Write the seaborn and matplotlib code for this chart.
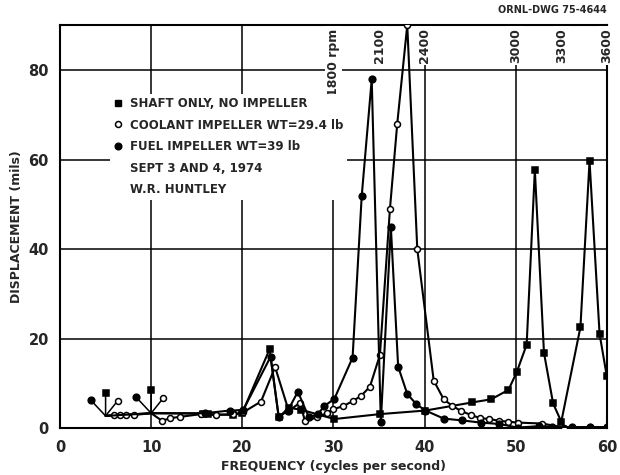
import matplotlib
matplotlib.use("Agg")
import matplotlib.pyplot as plt
import matplotlib.transforms as mtransforms
from matplotlib.lines import Line2D
import seaborn as sns
import pandas as pd

# ---- data ----
shaft_x = [5.0, 10.0, 15.7, 16.2, 19.0, 20.0, 23.0, 24.0, 25.1, 26.4, 30.1, 35.1,
           40.1, 45.2, 47.3, 49.2, 50.1, 51.2, 52.1, 53.1, 54.1, 55.0, 57.1, 58.1, 59.2, 60.0]
shaft_y = [2.8, 3.4, 3.3, 3.2, 3.0, 3.5, 17.7, 2.5, 4.6, 4.2, 2.1, 3.2,
           4.0, 5.8, 6.5, 8.6, 12.5, 18.7, 57.7, 16.9, 5.6, 1.5, 22.6, 59.7, 21.1, 11.6]

coolant_x = [5.0, 5.9, 6.6, 7.2, 8.1, 10.0, 11.2, 12.1, 13.2, 15.5, 17.1, 19.0, 20.1,
             22.05, 23.6, 25.1, 26.3, 26.9, 28.2, 29.3, 30.0, 31.1, 32.1, 33.0, 34.0,
             35.1, 36.2, 37.0, 38.1, 39.2, 41.0, 42.1, 43.0, 44.0, 45.1, 46.1, 47.1,
             48.2, 49.2, 50.3, 52.9, 55.3, 58.2, 60.0]
coolant_y = [2.8, 3.0, 3.0, 3.0, 3.0, 3.4, 1.7, 2.3, 2.6, 3.2, 3.0, 3.2, 3.6,
             6.0, 13.7, 3.9, 5.7, 1.6, 2.5, 3.4, 4.3, 5.0, 6.1, 7.2, 9.3,
             16.4, 49.0, 68.0, 90.0, 40.0, 10.7, 6.5, 5.1, 3.9, 3.0, 2.3, 2.1,
             1.7, 1.5, 1.3, 1.1, 0.2, 0.3, 0.3]

fuel_x = [5.0, 10.0, 15.9, 18.6, 20.1, 23.1, 24.0, 25.0, 26.1, 27.3, 28.3, 29.0, 30.1,
          32.1, 33.1, 34.2, 35.2, 36.3, 37.1, 38.1, 39.1, 40.1, 42.1, 44.1, 46.2, 48.2,
          50.2, 52.5, 54.0, 56.2, 58.2, 60.0]
fuel_y = [2.8, 3.4, 3.4, 4.0, 4.1, 16.0, 2.5, 4.0, 8.2, 2.5, 3.2, 5.0, 6.6,
          15.8, 51.8, 77.9, 1.5, 45.0, 13.8, 7.7, 5.4, 4.0, 2.2, 1.8, 1.3, 1.0,
          0.2, 0.5, 0.4, 0.3, 0.3, 0.3]

# coincident points (all three series) shown with offset symbols and leader lines
callout_hub_x = [5.0, 10.0]
callout_hub_y = [2.8, 3.4]

rpm_freq = [30, 35, 40, 50, 55, 60]
rpm_labels = ["1800 rpm", "2100", "2400", "3000", "3300", "3600"]

legend_labels = ["SHAFT ONLY, NO IMPELLER", "COOLANT IMPELLER WT=29.4 lb",
                 "FUEL IMPELLER WT=39 lb", "SEPT 3 AND 4, 1974", "W.R. HUNTLEY"]

# ---- style ----
sns.set_theme(style="white")
plt.rcParams['font.family'] = ['DejaVu Sans']

fig = plt.figure(figsize=(6.2, 4.75), dpi=100)
ax = fig.add_axes([0.0968, 0.098, 0.882, 0.849])

# grid
for gx in [10, 20, 30, 40, 50]:
    ax.axvline(gx, color='black', lw=1.1, zorder=0)
for gy in [20, 40, 60, 80]:
    ax.axhline(gy, color='black', lw=1.1, zorder=0)

SQ, CO, CF = 5.0, 4.3, 4.8  # marker sizes: square, open circle, filled circle

series = [
    (shaft_x, shaft_y, 's', 'black', SQ),
    (coolant_x, coolant_y, 'o', 'white', CO),
    (fuel_x, fuel_y, 'o', 'black', CF),
]
for xs, ys, mk, fc, ms in series:
    df = pd.DataFrame({'f': xs, 'd': ys})
    hubs = [i for i, (x, y) in enumerate(zip(xs, ys))
            if (x, y) in zip(callout_hub_x, callout_hub_y)]
    every = [i for i in range(len(xs)) if i not in hubs]
    sns.lineplot(data=df, x='f', y='d', sort=False, estimator=None, ax=ax,
                 color='black', lw=1.5, marker=mk, markersize=ms, markevery=every,
                 markerfacecolor=fc, markeredgecolor='black', markeredgewidth=1.1,
                 zorder=3)

# callouts: (dx, dy) pixel offsets of fuel, shaft, coolant symbols from the hub
offsets = [((-15, 16), 'o', 'black', CF),
           ((0, 23), 's', 'black', SQ),
           ((12, 15), 'o', 'white', CO)]
for hx, hy in zip(callout_hub_x, callout_hub_y):
    for (dx, dy), mk, fc, ms in offsets:
        ax.annotate('', xy=(hx, hy), xytext=(dx, dy), textcoords='offset pixels',
                    arrowprops=dict(arrowstyle='-', lw=1.1, color='black',
                                    shrinkA=0, shrinkB=0), zorder=2)
        tr = mtransforms.offset_copy(ax.transData, fig=fig, x=dx, y=dy, units='dots')
        ax.plot([hx], [hy], marker=mk, ms=ms, mfc=fc, mec='black', mew=1.1,
                transform=tr, zorder=4, clip_on=False)

ax.set_xlim(0, 60)
ax.set_ylim(0, 90)
ax.set_xticks([0, 10, 20, 30, 40, 50, 60])
ax.set_yticks([0, 20, 40, 60, 80])
ax.tick_params(length=0, labelsize=10.5, pad=8)
for lab in ax.get_xticklabels() + ax.get_yticklabels():
    lab.set_fontweight('bold')
for s in ax.spines.values():
    s.set_color('black')
    s.set_linewidth(1.5)

ax.set_xlabel("FREQUENCY (cycles per second)", fontsize=9, fontweight='bold', labelpad=4)
ax.set_ylabel("DISPLACEMENT (mils)", fontsize=9, fontweight='bold', labelpad=4)

# rpm labels along the top
for fx, lab in zip(rpm_freq, rpm_labels):
    ax.text(fx, 89.3, lab, rotation=90, ha='center', va='top', fontsize=9,
            fontweight='bold', zorder=5,
            bbox=dict(facecolor='white', edgecolor='none', pad=1.5))

# legend
handles = [
    Line2D([], [], ls='none', marker='s', ms=SQ, mfc='black', mec='black'),
    Line2D([], [], ls='none', marker='o', ms=CO, mfc='white', mec='black', mew=1.1),
    Line2D([], [], ls='none', marker='o', ms=CF, mfc='black', mec='black'),
    Line2D([], [], ls='none', marker=None),
    Line2D([], [], ls='none', marker=None),
]
leg = ax.legend(handles, legend_labels, loc='upper left', bbox_to_anchor=(0.08, 0.845),
                frameon=True, framealpha=1, facecolor='white', edgecolor='none',
                handlelength=0.8, handletextpad=0.6, labelspacing=0.72,
                borderpad=0.3, prop={'size': 8.5, 'weight': 'bold'})
leg.set_zorder(6)

fig.text(0.979, 0.978, "ORNL-DWG 75-4644", ha='right', va='center',
         fontsize=7, fontweight='bold')

fig.savefig("out.png", dpi=100, facecolor='white')
